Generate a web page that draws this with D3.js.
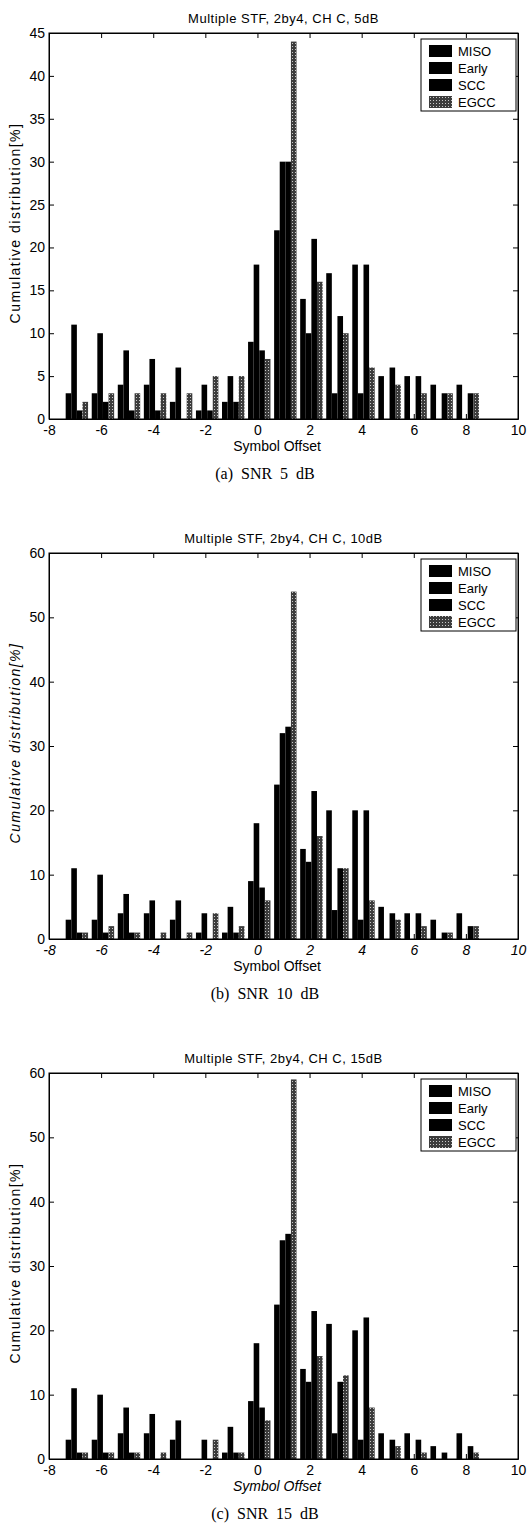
<!DOCTYPE html>
<html>
<head>
<meta charset="utf-8">
<script src="https://cdn.jsdelivr.net/npm/d3@7"></script>
<style>
  html, body { margin: 0; padding: 0; background: #fff; }
  svg { display: block; }
  text { font-family: Arial, "Liberation Sans", Helvetica, sans-serif; fill: #000; }
</style>
</head>
<body>
<svg id="chart" width="527" height="1530"></svg>
<script>
// ---------- data ----------
const offsets = [-7, -6, -5, -4, -3, -2, -1, 0, 1, 2, 3, 4, 5, 6, 7, 8];
const seriesNames = ["MISO", "Early", "SCC", "EGCC"];
const xTicks = [-8, -6, -4, -2, 0, 2, 4, 6, 8, 10];

// (a) SNR 5 dB
const titleA = "Multiple STF, 2by4, CH C, 5dB";
const captionA = "(a)  SNR  5  dB";
const yTicksA = [0, 5, 10, 15, 20, 25, 30, 35, 40, 45];
const misoA  = [3, 3, 4, 4, 2, 1, 2, 9, 22, 14, 17, 18, 5, 5, 4, 4];
const earlyA = [11, 10, 8, 7, 6, 4, 5, 18, 30, 10, 3, 3, 0, 0, 0, 0];
const sccA   = [1, 2, 1, 1, 0, 1, 2, 8, 30, 21, 12, 18, 6, 5, 3, 3];
const egccA  = [2, 3, 3, 3, 3, 5, 5, 7, 44, 16, 10, 6, 4, 3, 3, 3];

// (b) SNR 10 dB
const titleB = "Multiple STF, 2by4, CH C, 10dB";
const captionB = "(b)  SNR  10  dB";
const yTicksB = [0, 10, 20, 30, 40, 50, 60];
const misoB  = [3, 3, 4, 4, 3, 1, 1, 9, 24, 14, 20, 20, 5, 4, 3, 4];
const earlyB = [11, 10, 7, 6, 6, 4, 5, 18, 32, 12, 4.5, 3, 0, 0, 0, 0];
const sccB   = [1, 1, 1, 0, 0, 0, 1, 8, 33, 23, 11, 20, 4, 4, 1, 2];
const egccB  = [1, 2, 1, 1, 1, 4, 2, 6, 54, 16, 11, 6, 3, 2, 1, 2];

// (c) SNR 15 dB
const titleC = "Multiple STF, 2by4, CH C, 15dB";
const captionC = "(c)  SNR  15  dB";
const yTicksC = [0, 10, 20, 30, 40, 50, 60];
const misoC  = [3, 3, 4, 4, 3, 0, 1, 9, 24, 14, 21, 20, 4, 4, 2, 4];
const earlyC = [11, 10, 8, 7, 6, 3, 5, 18, 34, 12, 4, 3, 0, 0, 0, 0];
const sccC   = [1, 1, 1, 0, 0, 0, 1, 8, 35, 23, 12, 22, 3, 3, 1, 2];
const egccC  = [1, 1, 1, 1, 0, 3, 1, 6, 59, 16, 13, 8, 2, 1, 0, 1];

// ---------- layout ----------
const svg = d3.select("#chart");
const defs = svg.append("defs");
const pat = defs.append("pattern").attr("id", "egccPat")
  .attr("width", 3).attr("height", 3).attr("patternUnits", "userSpaceOnUse");
pat.append("rect").attr("width", 3).attr("height", 3).attr("fill", "#3c3c3c");
pat.append("rect").attr("x", 1).attr("y", 1).attr("width", 1).attr("height", 1).attr("fill", "#c8c8c8");

const fills = ["#000", "#000", "#000", "url(#egccPat)"];
const left = 49, right = 518, plotH = 386;
const barW = 0.215, groupShift = 0.07;

const charts = [
  { top: 33,   title: titleA, caption: captionA, yMax: 45, yTicks: yTicksA, data: [misoA, earlyA, sccA, egccA], italicX: false, italicY: false, italicTicks: false },
  { top: 553,  title: titleB, caption: captionB, yMax: 60, yTicks: yTicksB, data: [misoB, earlyB, sccB, egccB], italicX: false, italicY: true, italicTicks: true },
  { top: 1073, title: titleC, caption: captionC, yMax: 60, yTicks: yTicksC, data: [misoC, earlyC, sccC, egccC], italicX: true, italicY: false, italicTicks: false }
];

charts.forEach(c => {
  const bottom = c.top + plotH;
  const x = d3.scaleLinear().domain([-8, 10]).range([left, right]);
  const y = d3.scaleLinear().domain([0, c.yMax]).range([bottom, c.top]);
  const g = svg.append("g");

  // bars
  c.data.forEach((vals, j) => {
    g.append("g").selectAll("rect").data(vals.map((v, i) => ({ v, o: offsets[i] })))
      .enter().append("rect")
      .attr("x", d => x(d.o + groupShift - 2 * barW + j * barW))
      .attr("width", x(barW) - x(0))
      .attr("y", d => y(d.v))
      .attr("height", d => y(0) - y(d.v))
      .attr("fill", fills[j]);
  });

  // frame
  g.append("rect").attr("x", left).attr("y", c.top)
    .attr("width", right - left).attr("height", plotH)
    .attr("fill", "none").attr("stroke", "#000").attr("stroke-width", 1);

  // axes (ticks inward)
  const xb = g.append("g").attr("transform", `translate(0,${bottom})`)
    .call(d3.axisBottom(x).tickValues(xTicks).tickSizeInner(-5).tickSizeOuter(0).tickPadding(6).tickFormat(d3.format("d")));
  const yl = g.append("g").attr("transform", `translate(${left},0)`)
    .call(d3.axisLeft(y).tickValues(c.yTicks).tickSizeInner(-5).tickSizeOuter(0).tickPadding(4).tickFormat(d3.format("d")));
  g.append("g").attr("transform", `translate(0,${c.top})`)
    .call(d3.axisTop(x).tickValues(xTicks).tickSizeInner(-5).tickSizeOuter(0).tickFormat(""));
  g.append("g").attr("transform", `translate(${right},0)`)
    .call(d3.axisRight(y).tickValues(c.yTicks).tickSizeInner(-5).tickSizeOuter(0).tickFormat(""));

  g.selectAll(".domain").attr("stroke", "#000");
  g.selectAll(".tick line").attr("stroke", "#000");
  [xb, yl].forEach(a => a.selectAll("text")
    .style("font-size", "14px")
    .style("font-family", "Arial, 'Liberation Sans', sans-serif")
    .attr("fill", "#000"));
  if (c.italicTicks) xb.selectAll("text").style("font-style", "italic");
  xb.selectAll("text").text(d => d < 0 ? "-" + Math.abs(d) : d);

  // title
  g.append("text").attr("x", (left + right) / 2).attr("y", c.top - 10)
    .attr("text-anchor", "middle").style("font-size", "13px").style("letter-spacing", "0.5px")
    .text(c.title);

  // x label
  g.append("text").attr("x", 277).attr("y", bottom + 32)
    .attr("text-anchor", "middle").style("font-size", "14px")
    .style("font-style", c.italicX ? "italic" : "normal")
    .text("Symbol Offset");

  // y label
  g.append("text").attr("transform", `translate(20,${c.top + 190}) rotate(-90)`)
    .attr("text-anchor", "middle").style("font-size", "14px").style("letter-spacing", "1.5px")
    .style("font-style", c.italicY ? "italic" : "normal")
    .text("Cumulative distribution[%]");

  // legend
  const lx = 421, ly = c.top + 6, lw = 95, lh = 72;
  const lg = g.append("g");
  lg.append("rect").attr("x", lx).attr("y", ly).attr("width", lw).attr("height", lh)
    .attr("fill", "#fff").attr("stroke", "#000");
  seriesNames.forEach((s, j) => {
    const cy = ly + 12 + j * 17;
    lg.append("rect").attr("x", lx + 8).attr("y", cy - 6).attr("width", 23).attr("height", 12)
      .attr("fill", fills[j]);
    lg.append("text").attr("x", lx + 37).attr("y", cy).attr("dy", "0.35em")
      .style("font-size", "13px").text(s);
  });

  // caption
  g.append("text").attr("x", 265).attr("y", bottom + 60)
    .attr("text-anchor", "middle")
    .style("font-family", "'Liberation Serif', 'Times New Roman', serif")
    .style("font-size", "16px").style("white-space", "pre")
    .attr("xml:space", "preserve")
    .text(c.caption);
});
</script>
</body>
</html>
